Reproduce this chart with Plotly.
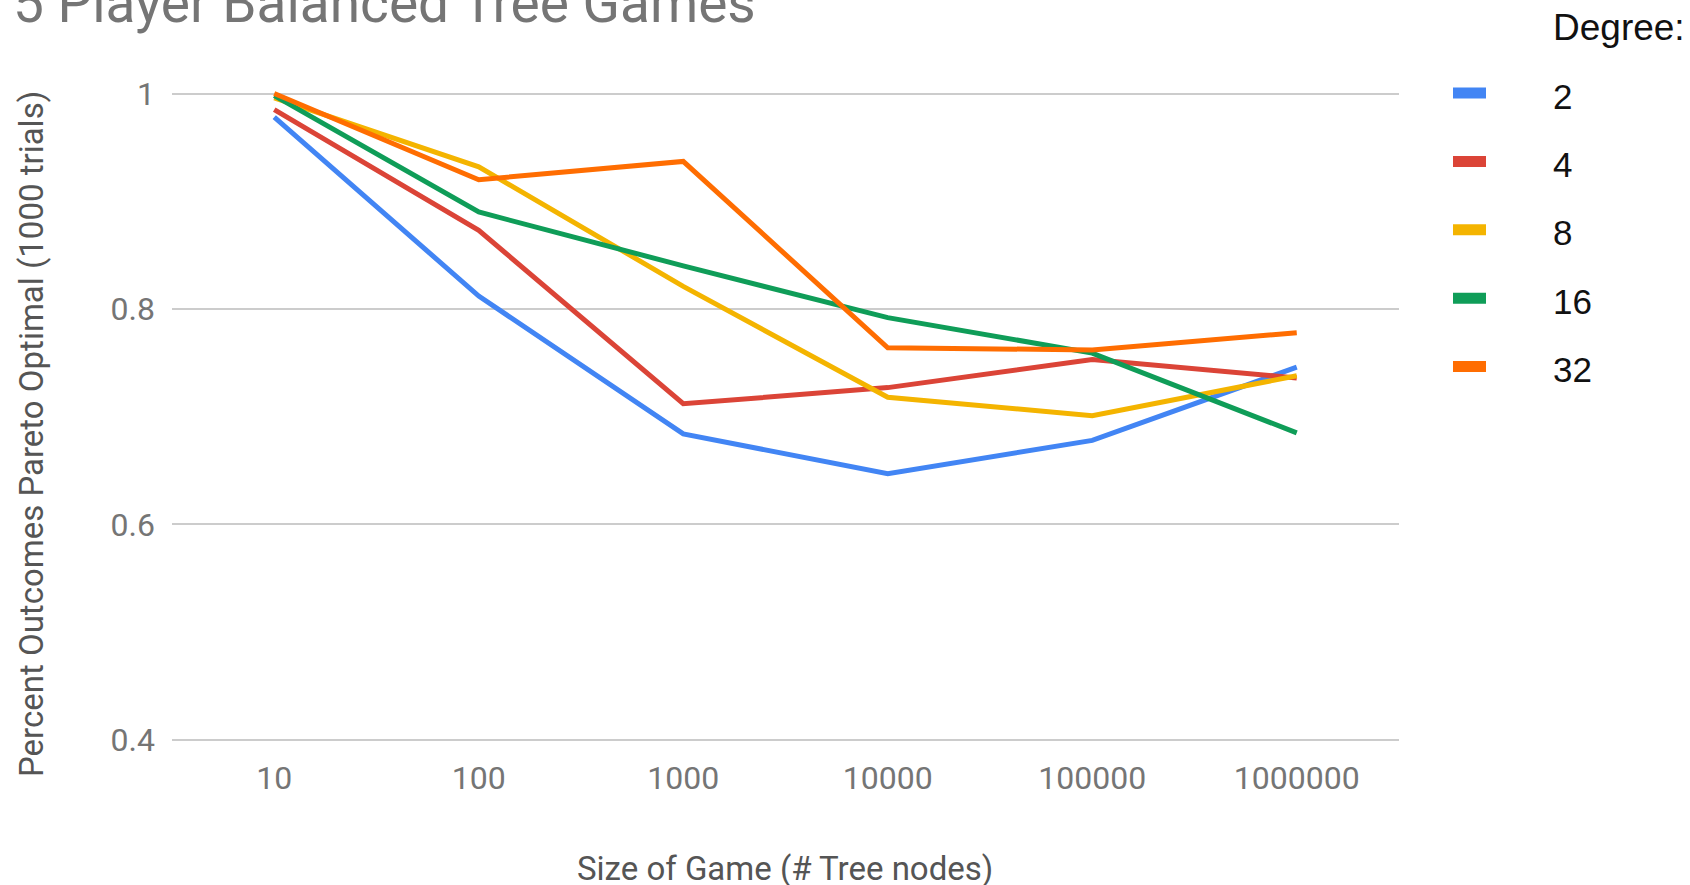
import plotly.graph_objects as go

# Game sizes (number of tree nodes) on a categorical x axis
sizes = ["10", "100", "1000", "10000", "100000", "1000000"]

# Share of outcomes that are Pareto optimal, one series per tree degree
deg2 = [0.978, 0.812, 0.684, 0.647, 0.678, 0.746]
deg4 = [0.985, 0.873, 0.712, 0.727, 0.753, 0.736]
deg8 = [0.996, 0.932, 0.821, 0.718, 0.701, 0.738]
deg16 = [0.998, 0.890, 0.840, 0.792, 0.759, 0.685]
deg32 = [1.000, 0.920, 0.937, 0.764, 0.762, 0.778]

degree_labels = ["2", "4", "8", "16", "32"]
series = [deg2, deg4, deg8, deg16, deg32]
colors = ["#4285F4", "#DB4437", "#F4B400", "#0F9D58", "#FF6D01"]

y_ticks = [0.4, 0.6, 0.8, 1.0]
y_tick_text = ["0.4", "0.6", "0.8", "1"]

W, H = 1690, 885
L, R, T, B = 172, 291, 72, 129
PW, PH = W - L - R, H - T - B


def paper_x(px):
    return (px - L) / PW


def paper_y(py):
    return (H - B - py) / PH


fig = go.Figure()
for name, vals, col in zip(degree_labels, series, colors):
    fig.add_trace(go.Scatter(
        x=sizes, y=vals, mode="lines", name=name,
        line=dict(color=col, width=5), showlegend=False,
    ))

# Legend drawn as swatches plus labels to the right of the plot
shapes = []
annotations = []
annotations.append(dict(
    text="Degree:", x=paper_x(1551), y=paper_y(28), xref="paper", yref="paper",
    xanchor="left", yanchor="middle", showarrow=False,
    font=dict(family="Liberation Sans, Arial", size=37, color="#111111"),
))
for i, (name, col) in enumerate(zip(degree_labels, colors)):
    cy = 93 + 68.4 * i
    shapes.append(dict(
        type="rect", xref="paper", yref="paper",
        x0=paper_x(1453), x1=paper_x(1486),
        y0=paper_y(cy - 5.5), y1=paper_y(cy + 5.5),
        fillcolor=col, line=dict(width=0),
    ))
    annotations.append(dict(
        text=name, x=paper_x(1551), y=paper_y(cy + 3), xref="paper", yref="paper",
        xanchor="left", yanchor="middle", showarrow=False,
        font=dict(family="Liberation Sans, Arial", size=35, color="#111111"),
    ))

# Axis titles
annotations.append(dict(
    text="Percent Outcomes Pareto Optimal (1000 trials)",
    x=paper_x(32), y=paper_y(434), xref="paper", yref="paper",
    xanchor="center", yanchor="middle", textangle=-90, showarrow=False,
    font=dict(family="Roboto", size=33, color="#555555"),
))
annotations.append(dict(
    text="Size of Game (# Tree nodes)",
    x=paper_x(785), y=paper_y(868), xref="paper", yref="paper",
    xanchor="center", yanchor="middle", showarrow=False,
    font=dict(family="Roboto", size=33, color="#555555"),
))

fig.update_layout(
    width=W, height=H,
    margin=dict(l=L, r=R, t=T, b=B, autoexpand=False),
    paper_bgcolor="white", plot_bgcolor="white",
    title=dict(
        text="5 Player Balanced Tree Games",
        x=13 / W, xanchor="left", xref="container",
        y=1 - 3 / H, yanchor="middle", yref="container",
        font=dict(family="Roboto", size=55, color="#757575"),
    ),
    shapes=shapes,
    annotations=annotations,
    xaxis=dict(
        type="category", range=[-0.5, 5.5],
        showgrid=False, zeroline=False, showline=False, ticks="",
        tickfont=dict(family="Roboto", size=32, color="#757575"),
    ),
    yaxis=dict(
        range=[0.385, 1.02], tickvals=y_ticks, ticktext=y_tick_text,
        showgrid=True, gridcolor="#cccccc", gridwidth=2,
        zeroline=False, showline=False, ticks="",
        ticklabelstandoff=16,
        tickfont=dict(family="Roboto", size=32, color="#757575"),
    ),
)

fig.write_html("out.html")
